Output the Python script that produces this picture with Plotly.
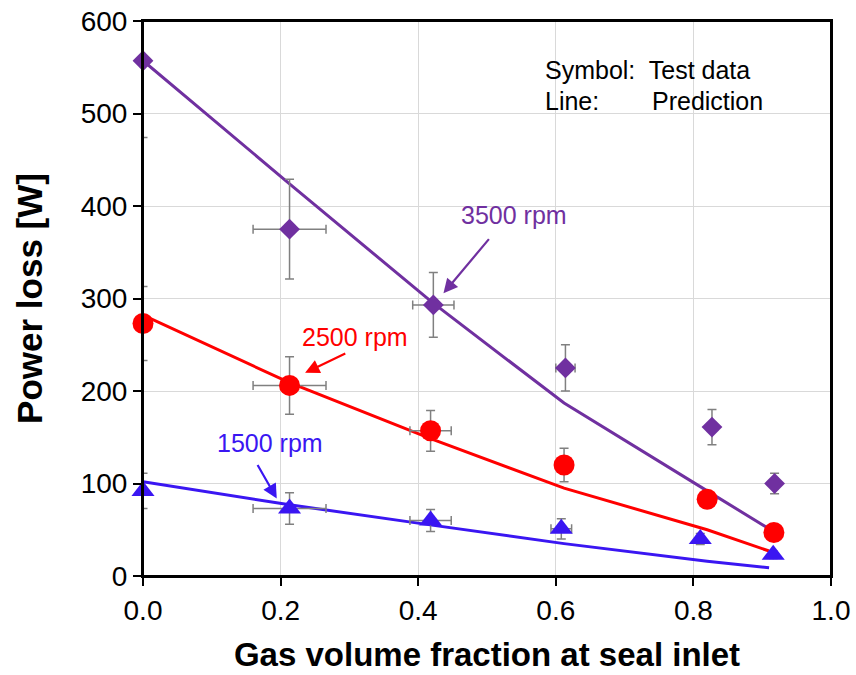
import plotly.graph_objects as go

# ---------------- data ----------------
gvf_3500 = [0.0, 0.213, 0.422, 0.614, 0.827, 0.918]
power_3500 = [557, 375, 293, 225, 161, 100]
err_y_3500 = [83, 54, 35, 25, 19, 11]
err_x_3500 = [0.0, 0.053, 0.03, 0.014, 0.0, 0.0]

gvf_2500 = [0.0, 0.213, 0.418, 0.612, 0.820, 0.917]
power_2500 = [273, 206, 157, 120, 83, 47]
err_y_2500 = [40, 31, 22, 18, 8, 5]
err_x_2500 = [0.0, 0.053, 0.03, 0.012, 0.0, 0.0]

gvf_1500 = [0.0, 0.213, 0.418, 0.608, 0.810, 0.916]
power_1500 = [92, 73, 60, 51, 40, 23]
err_y_1500 = [19, 17, 12, 11, 6, 4]
err_x_1500 = [0.0, 0.053, 0.03, 0.015, 0.0, 0.0]

pred_gvf = [0.0, 0.213, 0.42, 0.612, 0.82, 0.91]
pred_3500 = [557, 424, 296, 187, 92, 51]
pred_2500 = [282, 209, 148, 95, 50, 27]
pred_1500 = [102, 77, 55, 35, 16, 9]

x_ticks = [0.0, 0.2, 0.4, 0.6, 0.8, 1.0]
y_ticks = [0, 100, 200, 300, 400, 500, 600]

PURPLE = "#7030A0"
RED = "#FF0000"
BLUE = "#3A16F2"
GREY = "#808080"
FONT = "Liberation Sans, Arial, sans-serif"

fig = go.Figure()

# prediction lines
for xs, ys, col in [(pred_gvf, pred_3500, PURPLE),
                    (pred_gvf, pred_2500, RED),
                    (pred_gvf, pred_1500, BLUE)]:
    fig.add_trace(go.Scatter(x=xs, y=ys, mode="lines",
                             line=dict(color=col, width=3),
                             showlegend=False, hoverinfo="skip"))

# error bars (clipped to the plot area)
for xs, ys, ey, ex in [(gvf_3500, power_3500, err_y_3500, err_x_3500),
                       (gvf_2500, power_2500, err_y_2500, err_x_2500),
                       (gvf_1500, power_1500, err_y_1500, err_x_1500)]:
    fig.add_trace(go.Scatter(
        x=xs, y=ys, mode="markers",
        marker=dict(size=4, opacity=0),
        error_y=dict(type="data", array=ey, visible=True,
                     color=GREY, thickness=1.5, width=4.5),
        error_x=dict(type="data", array=ex, visible=True,
                     color=GREY, thickness=1.5, width=4.5),
        cliponaxis=True, showlegend=False, hoverinfo="skip"))

# test data markers
fig.add_trace(go.Scatter(x=gvf_3500, y=power_3500, mode="markers",
                         marker=dict(symbol="diamond", size=16, color=PURPLE),
                         cliponaxis=False, showlegend=False))
fig.add_trace(go.Scatter(x=gvf_2500, y=power_2500, mode="markers",
                         marker=dict(symbol="circle", size=21, color=RED),
                         cliponaxis=False, showlegend=False))
fig.add_trace(go.Scatter(x=gvf_1500, y=power_1500, mode="markers",
                         marker=dict(symbol="triangle-up", size=20, color=BLUE),
                         cliponaxis=False, showlegend=False))

annotations = [
    dict(x=0.4367, y=305.6, ax=0.5046, ay=365.8, axref="x", ayref="y",
         xref="x", yref="y", text="", showarrow=True, arrowhead=2,
         arrowsize=1.3, arrowwidth=2.2, arrowcolor=PURPLE),
    dict(x=0.5396, y=390.2, xref="x", yref="y", text="3500 rpm",
         showarrow=False, font=dict(size=25, color=PURPLE, family=FONT)),
    dict(x=0.2356, y=219.7, ax=0.2962, ay=241.3, axref="x", ayref="y",
         xref="x", yref="y", text="", showarrow=True, arrowhead=2,
         arrowsize=1.3, arrowwidth=2.2, arrowcolor=RED),
    dict(x=0.3083, y=258.3, xref="x", yref="y", text="2500 rpm",
         showarrow=False, font=dict(size=25, color=RED, family=FONT)),
    dict(x=0.1944, y=83.8, ax=0.1653, ay=121.6, axref="x", ayref="y",
         xref="x", yref="y", text="", showarrow=True, arrowhead=2,
         arrowsize=1.3, arrowwidth=2.2, arrowcolor=BLUE),
    dict(x=0.1847, y=143.6, xref="x", yref="y", text="1500 rpm",
         showarrow=False, font=dict(size=25, color=BLUE, family=FONT)),
    dict(x=0.5817, y=547.3, xref="x", yref="y", xanchor="left",
         text="Symbol:  Test data", showarrow=False,
         font=dict(size=25, color="black", family=FONT)),
    dict(x=0.5817, y=513.7, xref="x", yref="y", xanchor="left",
         text="Line:", showarrow=False,
         font=dict(size=25, color="black", family=FONT)),
    dict(x=0.737, y=513.7, xref="x", yref="y", xanchor="left",
         text="Prediction", showarrow=False,
         font=dict(size=25, color="black", family=FONT)),
]

fig.update_layout(
    width=856, height=675,
    margin=dict(l=143, r=25, t=21, b=99),
    paper_bgcolor="white", plot_bgcolor="white",
    font=dict(family=FONT, color="black"),
    annotations=annotations,
    shapes=[dict(type="rect", xref="paper", yref="paper",
                 x0=0, x1=1, y0=0, y1=1,
                 line=dict(color="black", width=2), layer="above")],
    xaxis=dict(range=[0, 1], tickvals=x_ticks, tickformat=".1f",
               automargin=False, ticklabeloverflow="allow",
               showgrid=True, gridcolor="#d9d9d9", gridwidth=1,
               showline=True, linecolor="black", linewidth=2, mirror=True,
               ticks="outside", ticklen=8, tickwidth=1.5, tickcolor="black",
               tickfont=dict(size=28, family=FONT),
               zeroline=False,
               title=dict(text="<b>Gas volume fraction at seal inlet</b>",
                          font=dict(size=33, family=FONT), standoff=18)),
    yaxis=dict(range=[0, 600], tickvals=y_ticks,
               automargin=False, ticklabeloverflow="allow",
               showgrid=True, gridcolor="#d9d9d9", gridwidth=1,
               showline=True, linecolor="black", linewidth=2, mirror=True,
               ticks="outside", ticklen=8, tickwidth=1.5, tickcolor="black",
               tickfont=dict(size=28, family=FONT),
               zeroline=False,
               title=dict(text="<b>Power loss [W]</b>",
                          font=dict(size=35, family=FONT), standoff=27)),
)

# remove the default 8px page margin so the figure fills the window exactly
fig.write_html("out.html",
               config={"displayModeBar": False},
               post_script="document.body.style.margin='0';"
                           "document.body.style.overflow='hidden';")
